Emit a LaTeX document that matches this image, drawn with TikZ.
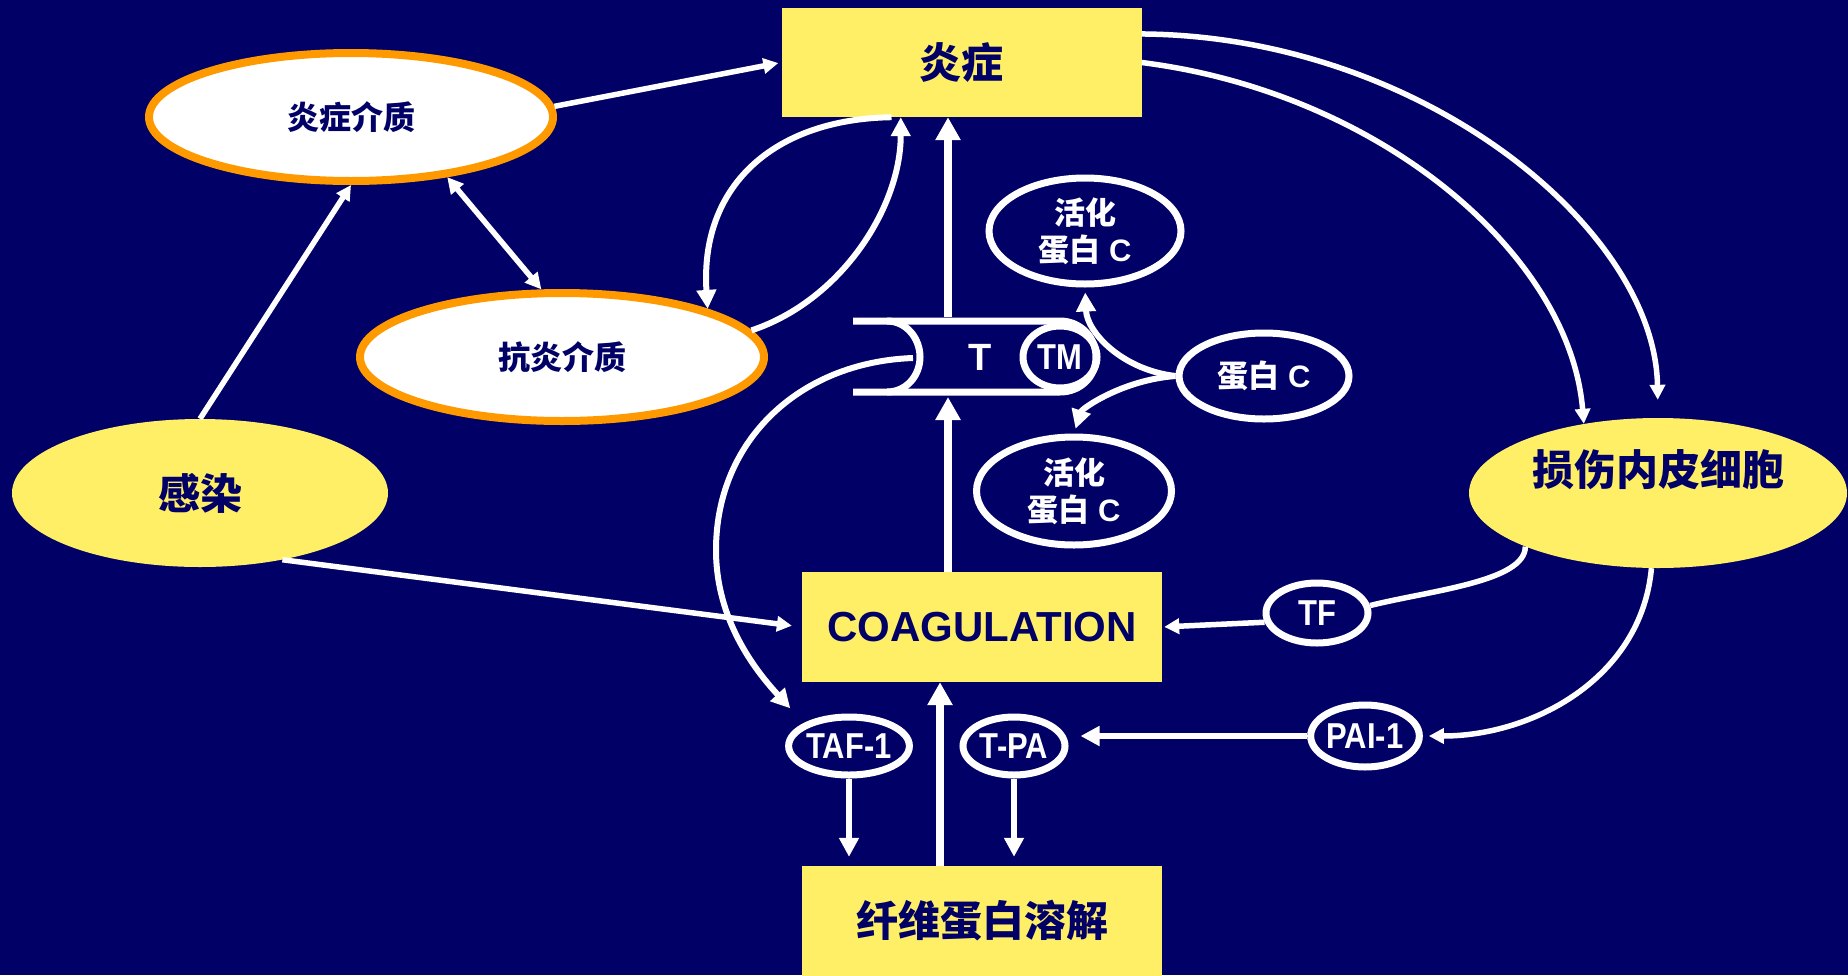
\documentclass[tikz,border=0pt]{standalone}
\usepackage{fontspec}
\setmainfont{Liberation Sans}
\newfontfamily\cjk{Noto Sans CJK SC}
\newfontfamily\narrowsans[FakeStretch=0.86]{Liberation Sans}
\usetikzlibrary{shapes.geometric,arrows.meta,calc}
\definecolor{navy}{HTML}{000066}
\definecolor{lemon}{HTML}{FFEF66}
\definecolor{amber}{HTML}{FF9900}
\newcommand{\dbC}{{\cjk 蛋白} C}
\begin{document}
\begin{tikzpicture}[x=1pt,y=-1pt,
  ybox/.style={rectangle,fill=lemon,inner sep=0pt,minimum width=360pt,minimum height=109pt,text=navy,font=\cjk\bfseries\fontsize{42}{50}\selectfont},
  yell/.style={ellipse,fill=lemon,inner sep=0pt,text=navy,font=\cjk\bfseries\fontsize{42}{50}\selectfont},
  oell/.style={ellipse,fill=white,draw=amber,line width=8pt,inner sep=0pt,minimum width=404pt,minimum height=128pt,text=navy,font=\cjk\bfseries\fontsize{32}{38}\selectfont},
  well/.style={ellipse,draw=white,line width=7pt,inner sep=0pt,text=white,font=\narrowsans\bfseries\fontsize{36}{40}\selectfont},
  wtxt/.style={text=white,inner sep=0pt,font=\bfseries\fontsize{38}{42}\selectfont},
  bigtxt/.style={text=navy,inner sep=0pt,font=\cjk\bfseries\fontsize{42}{50}\selectfont},
  tube/.style={draw=white,line width=7pt},
  plain/.style={draw=white,line width=5.5pt},
  arr/.style={draw=white,line width=5.5pt,-{Triangle[length=15pt,width=15pt]}},
  marr/.style={draw=white,line width=6pt,-{Triangle[length=19pt,width=19pt]}},
  barr/.style={draw=white,line width=8pt,-{Triangle[length=23pt,width=24pt]}},
  dbl/.style={draw=white,line width=5.5pt,{Triangle[length=16pt,width=16pt]}-{Triangle[length=16pt,width=16pt]}}
]
\fill[navy] (0,0) rectangle (1848,975);
\useasboundingbox (0,0) rectangle (1848,975);

% boxes
\node[ybox] (yz) at (961.5,62.5) {炎症};
\node[ybox,minimum height=110pt,font=\bfseries\fontsize{42}{50}\selectfont] (coag) at (982,627) {COAGULATION};
\node[ybox,minimum height=110pt] (fib) at (982,921) {纤维蛋白溶解};

% big ellipses
\node[oell] (yzjz) at (351,117) {炎症介质};
\node[oell] (kyjz) at (562,357) {抗炎介质};
\node[yell,minimum width=376pt,minimum height=148pt] (gr) at (200,493) {感染};
\node[yell,minimum width=378pt,minimum height=150pt] (sh) at (1658,493) {};
\node[bigtxt] (shtxt) at (1658,470) {损伤内皮细胞};

% small white ellipses
\node[well,minimum width=192pt,minimum height=106pt,align=center,font=\bfseries\fontsize{31}{37}\selectfont] (hh1) at (1085,231) {{\cjk 活化}\\\dbC};
\node[well,minimum width=195pt,minimum height=108pt,align=center,font=\bfseries\fontsize{31}{37}\selectfont] (hh2) at (1074,491) {{\cjk 活化}\\\dbC};
\node[well,minimum width=170pt,minimum height=86pt,font=\bfseries\fontsize{31}{37}\selectfont] (pc) at (1264,376) {\dbC};
\node[well,minimum width=102pt,minimum height=60pt] (tf) at (1317,613) {TF};
\node[well,minimum width=114pt,minimum height=58pt] (taf) at (849,746) {TAF-1};
\node[well,minimum width=102pt,minimum height=58pt] (tpa) at (1014,746) {T-PA};
\node[well,minimum width=104pt,minimum height=62pt] (pai) at (1365,736) {PAI-1};

% tube with T and TM
\draw[tube] (853,321) -- (1060,321) .. controls (1080,321) and (1096,337) .. (1096,357) .. controls (1096,377) and (1080,392) .. (1060,392) -- (853,392);
\draw[tube] (887,321) .. controls (906,321) and (920,338) .. (920,357) .. controls (920,376) and (906,392) .. (887,392);
\node[wtxt] (T) at (980,357) {T};
\node[well,minimum width=74pt,minimum height=62pt,font=\narrowsans\bfseries\fontsize{36}{40}\selectfont] (TM) at (1060,357) {TM};
\coordinate (tubetop) at (948,317);
\coordinate (tubebot) at (948,397);
\coordinate (mouth) at (913,358);

% connectors
\draw[arr,shorten >=3pt] (yzjz.3) -- (yz.west);
\draw[arr] (gr.north) -- (yzjz.south);
\draw[dbl] (yzjz.-32) -- (kyjz.107);
\draw[marr] (yz.-142) .. controls +(-120,2) and +(-8,-121) .. (kyjz.north east);
\draw[marr] (kyjz.8) .. controls +(90,-30) and +(0,90) .. (yz.-138);
\draw[barr] (tubetop) -- (tubetop |- yz.south);
\draw[barr] (coag.north -| tubebot) -- (tubebot);
\draw[marr,shorten >=20pt] (mouth) .. controls (800,362) and (716,440) .. (716,550) .. controls (716,620) and (755,670) .. (taf.north west);
\draw[marr,shorten >=9pt] (taf.south) -- (taf.south |- fib.north);
\draw[marr,shorten >=9pt] (tpa.south) -- (tpa.south |- fib.north);
\draw[barr] ($(fib.north)+(-42,0)$) -- ($(coag.south)+(-42,0)$);
\draw[marr,shorten >=12pt] (pai.west) -- (pai.west -| tpa.east);
\draw[arr,shorten >=6pt] (sh.-95) .. controls +(-10,110) and +(110,0) .. (pai.east);
\draw[plain] (sh.-158) .. controls +(0,35) and +(60,-15) .. (tf.8);
\draw[arr,shorten >=2pt] (tf.190) -- (coag.east);
\draw[arr,shorten >=10pt] (gr.-39) -- (coag.west);
\draw[marr,shorten >=5pt] (pc.west) .. controls +(-53,-6) and +(2,45) .. (hh1.south);
\draw[marr,shorten >=5pt] (pc.west) .. controls +(-53,4) and +(8,-25) .. (hh2.north);
\draw[arr,shorten >=18pt] (yz.9) .. controls +(278,2) and +(-3,-190) .. (sh.north);
\draw[arr] (yz.east) .. controls +(238,30) and +(-14,-170) .. (sh.137);
\end{tikzpicture}
\end{document}
